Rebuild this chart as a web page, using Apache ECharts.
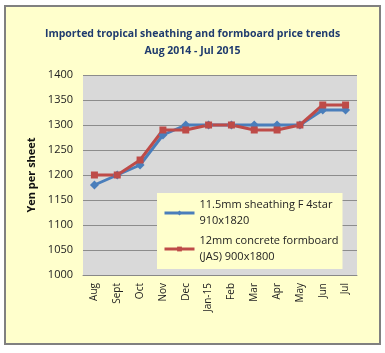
<!DOCTYPE html>
<html lang="en">
<head>
    <meta charset="UTF-8">
    <title>Imported tropical sheathing and formboard price trends</title>
    <script src="https://cdn.jsdelivr.net/npm/echarts@6/dist/echarts.min.js"></script>
    <style>
        html, body { margin: 0; padding: 0; background: #fff; }
        #chart { width: 385px; height: 353px; }
    </style>
</head>
<body>
    <div id="chart"></div>
    <script>
        var months = ['Aug', 'Sept', 'Oct', 'Nov', 'Dec', 'Jan-15', 'Feb', 'Mar', 'Apr', 'May', 'Jun', 'Jul'];
        var sheathing = [1180, 1200, 1220, 1280, 1300, 1300, 1300, 1300, 1300, 1300, 1330, 1330];
        var formboard = [1200, 1200, 1230, 1290, 1290, 1300, 1300, 1290, 1290, 1300, 1340, 1340];
        var seriesNames = ['11.5mm sheathing F 4star\n910x1820', '12mm concrete formboard\n(JAS) 900x1800'];

        var font = 'Open Sans';
        var myChart = echarts.init(document.getElementById('chart'));
        myChart.setOption({
            animation: false,
            backgroundColor: '#fff',
            graphic: [{
                type: 'rect',
                shape: { x: 5, y: 6, width: 375, height: 338 },
                style: { fill: '#ffffcc', stroke: '#808080', lineWidth: 2 },
                z: -10
            }],
            title: {
                text: 'Imported tropical sheathing and formboard price trends\nAug 2014 - Jul 2015',
                left: 'center',
                top: 21,
                textStyle: {
                    fontFamily: font,
                    fontSize: 10.5,
                    fontWeight: 'bold',
                    color: '#1f3b6e',
                    lineHeight: 17
                }
            },
            grid: {
                left: 83, right: 28, top: 75, bottom: 78,
                show: true,
                backgroundColor: '#d9d9d9',
                borderWidth: 0
            },
            legend: {
                orient: 'vertical',
                left: 157,
                top: 193,
                width: 180,
                backgroundColor: '#ffffcc',
                padding: [4, 4, 4, 6],
                itemGap: 4,
                itemWidth: 30,
                itemHeight: 6,
                lineStyle: { width: 3 },
                textStyle: { fontFamily: font, fontSize: 11, color: '#222', lineHeight: 16 },
                data: seriesNames
            },
            xAxis: {
                type: 'category',
                data: months,
                boundaryGap: true,
                axisLine: { lineStyle: { color: '#888' } },
                axisTick: { show: false },
                axisLabel: { rotate: 90, fontFamily: font, fontSize: 10, color: '#222', margin: 8 }
            },
            yAxis: {
                type: 'value',
                min: 1000,
                max: 1400,
                interval: 50,
                name: 'Yen per sheet',
                nameLocation: 'middle',
                nameGap: 33,
                nameTextStyle: { fontFamily: font, fontSize: 11, fontWeight: 'bold', color: '#111' },
                axisLine: { show: false },
                axisTick: { show: false },
                axisLabel: {
                    fontFamily: font, fontSize: 11, color: '#222', margin: 10,
                    formatter: function (v) { return String(v); }
                },
                splitLine: { lineStyle: { color: '#8c8c8c', width: 1 } }
            },
            series: [{
                name: seriesNames[0],
                type: 'line',
                data: sheathing,
                symbol: 'diamond',
                symbolSize: 9,
                lineStyle: { color: '#4a7ebb', width: 3 },
                itemStyle: { color: '#4a7ebb' }
            }, {
                name: seriesNames[1],
                type: 'line',
                data: formboard,
                symbol: 'rect',
                symbolSize: 7,
                lineStyle: { color: '#be4b48', width: 3 },
                itemStyle: { color: '#be4b48' }
            }]
        });
    </script>
</body>
</html>
